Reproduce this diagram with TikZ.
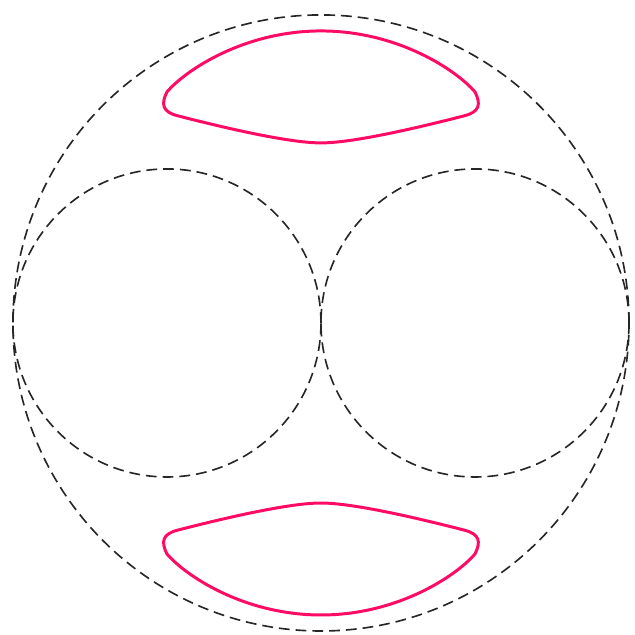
\documentclass[tikz,border=0pt]{standalone}
\usepackage{amsmath}
\usepackage{tikz}
\usetikzlibrary{calc}
\definecolor{loopred}{RGB}{255,10,100}
\tikzset{dashcirc/.style={draw, dash pattern=on 4pt off 2.2pt, line width=0.6pt, black!85},
  loopline/.style={draw, line width=1.1pt, loopred}}

\begin{document}
\begin{tikzpicture}[scale=2]
\useasboundingbox (-2.084,-2.026) rectangle (2.039,2.097);

\coordinate (o) at (0,0);
\coordinate (l) at (-1,0);
\coordinate (r) at (1,0);

\draw[dashcirc] (o) circle (2);
\draw[dashcirc] (l) circle (1);
\draw[dashcirc] (r) circle (1);

% top loop
\draw[loopline] (0,1.896) .. controls (0.5,1.896) and (0.88,1.64) .. (1.0,1.5)
  .. controls (1.04,1.42) and (1.03,1.37) .. (0.93,1.345)
  .. controls (0.6,1.26) and (0.2,1.169) .. (0,1.169)
  .. controls (-0.2,1.169) and (-0.6,1.26) .. (-0.93,1.345)
  .. controls (-1.03,1.37) and (-1.04,1.42) .. (-1.0,1.5)
  .. controls (-0.88,1.64) and (-0.5,1.896) .. cycle;

% bottom loop
\draw[loopline] (0,-1.896) .. controls (0.5,-1.896) and (0.88,-1.64) .. (1.0,-1.5)
  .. controls (1.04,-1.42) and (1.03,-1.37) .. (0.93,-1.345)
  .. controls (0.6,-1.26) and (0.2,-1.169) .. (0,-1.169)
  .. controls (-0.2,-1.169) and (-0.6,-1.26) .. (-0.93,-1.345)
  .. controls (-1.03,-1.37) and (-1.04,-1.42) .. (-1.0,-1.5)
  .. controls (-0.88,-1.64) and (-0.5,-1.896) .. cycle;

\end{tikzpicture}
\end{document}
